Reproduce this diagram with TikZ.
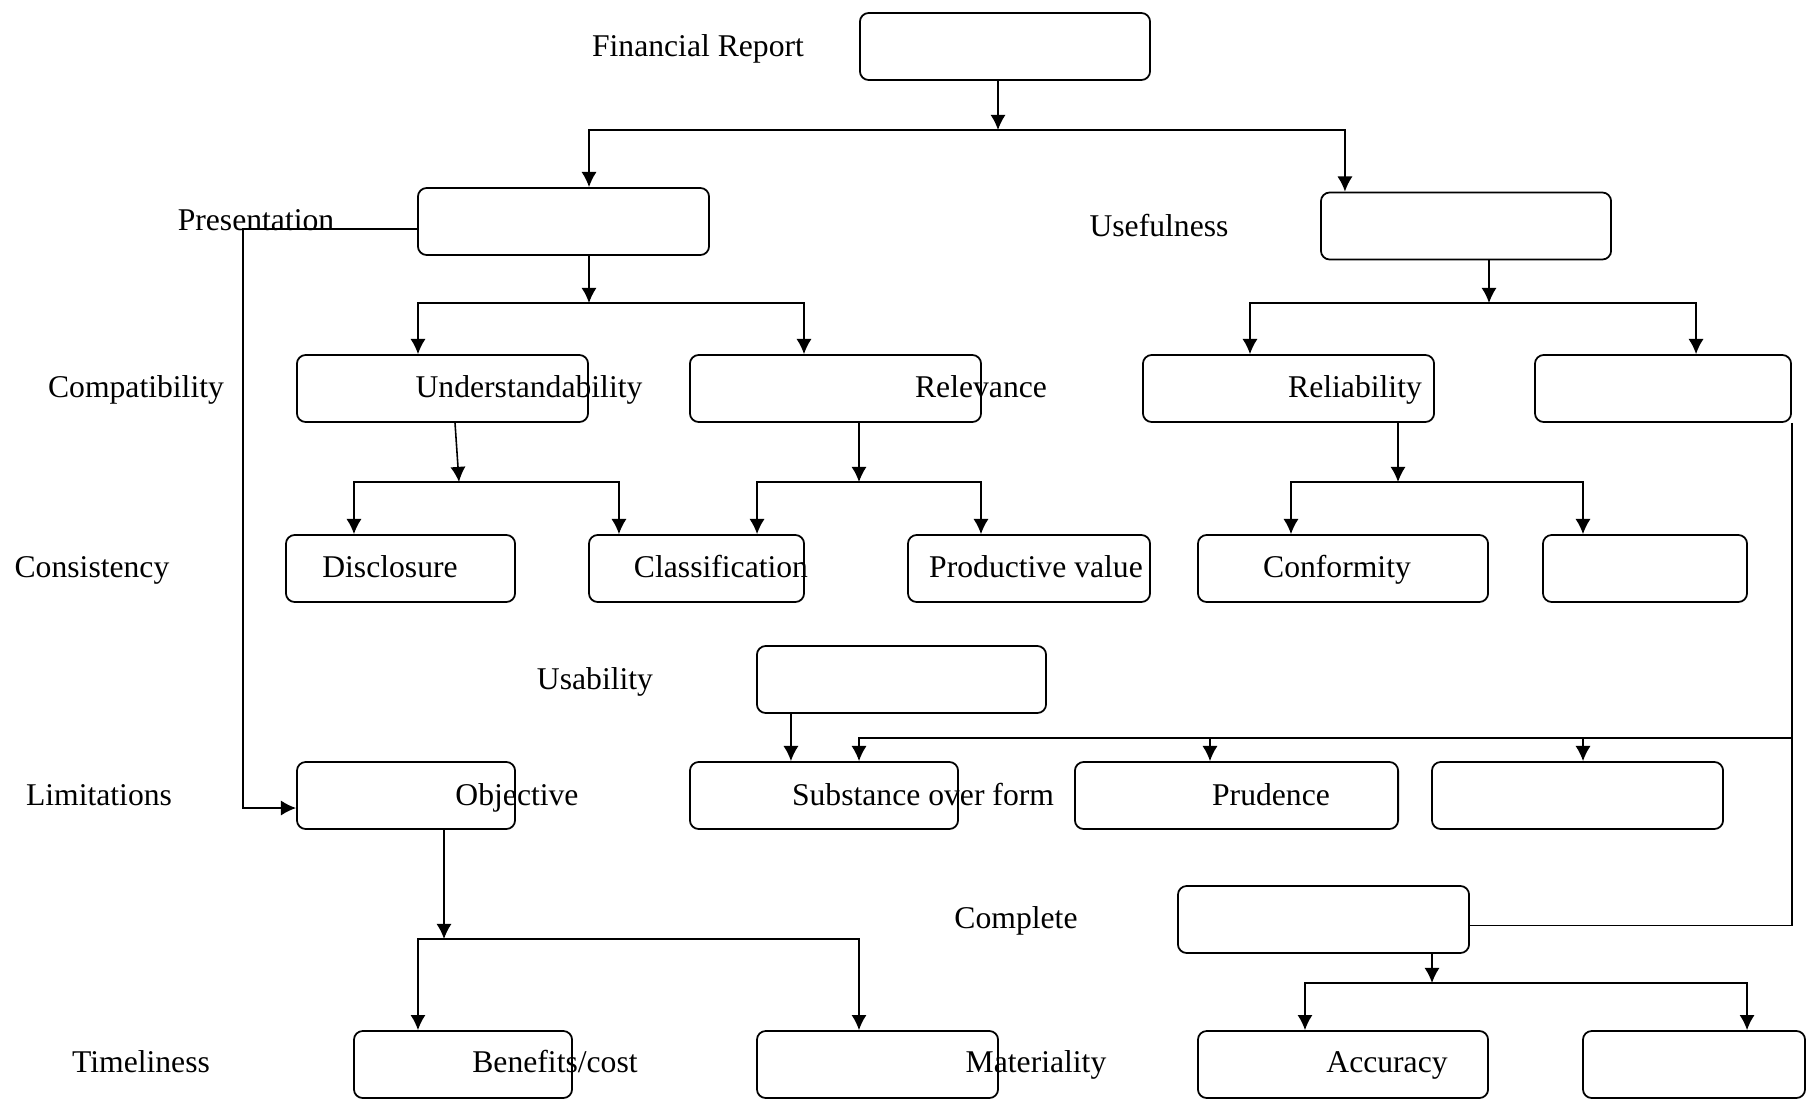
\documentclass[tikz,border=0pt]{standalone}
\usepackage{fontspec}
\setmainfont{Liberation Serif}
\usetikzlibrary{arrows.meta}

\tikzset{
  box/.style = {draw, rounded corners = 2.5pt, line width = 0.5pt, inner sep = 0pt, minimum height = 0.67cm},
  lbl/.style = {inner sep = 0pt, text height = 6.3pt, text depth = 0pt, font = \fontsize{9}{11}\selectfont},
  arr/.style = {line width = 0.45pt, -{Latex[length = 4.3pt, width = 4.3pt]}},
  ln/.style = {line width = 0.45pt}
}

\begin{document}
\begin{tikzpicture}[x = 0.01cm, y = -0.01cm]
  \useasboundingbox (0,0) rectangle (1807,1103);
  % boxes
  \node[box, minimum width = 2.90cm] (fr)   at (1005,46.5) {};
  \node[box, minimum width = 2.91cm] (pres) at (563.5,221.5) {};
  \node[box, minimum width = 2.90cm] (use)  at (1466,226) {};
  \node[box, minimum width = 2.91cm] (und)  at (442.5,388.5) {};
  \node[box, minimum width = 2.91cm] (rel)  at (835.5,388.5) {};
  \node[box, minimum width = 2.91cm] (reli) at (1288.5,388.5) {};
  \node[box, minimum width = 2.56cm] (ea)   at (1663,388.5) {};
  \node[box, minimum width = 2.29cm] (dis)  at (400.5,568.5) {};
  \node[box, minimum width = 2.15cm] (cla)  at (696.5,568.5) {};
  \node[box, minimum width = 2.42cm] (prod) at (1029,568.5) {};
  \node[box, minimum width = 2.90cm] (conf) at (1343,568.5) {};
  \node[box, minimum width = 2.04cm] (eb)   at (1645,568.5) {};
  \node[box, minimum width = 2.89cm] (usab) at (901.5,679.5) {};
  \node[box, minimum width = 2.18cm] (obj)  at (406,795.5) {};
  \node[box, minimum width = 2.68cm] (sub)  at (824,795.5) {};
  \node[box, minimum width = 3.23cm] (prud) at (1236.5,795.5) {};
  \node[box, minimum width = 2.91cm] (ec)   at (1577.5,795.5) {};
  \node[box, minimum width = 2.91cm] (comp) at (1323.5,919.5) {};
  \node[box, minimum width = 2.18cm] (ben)  at (463,1064.5) {};
  \node[box, minimum width = 2.41cm] (mat)  at (877.5,1064.5) {};
  \node[box, minimum width = 2.90cm] (acc)  at (1343,1064.5) {};
  \node[box, minimum width = 2.22cm] (ed)   at (1694,1064.5) {};
  % labels
  \node[lbl] (lfr)   at (698,45) {Financial Report};
  \node[lbl] (lpres) at (256,219) {Presentation};
  \node[lbl] (luse)  at (1159,225) {Usefulness};
  \node[lbl] (lcomt) at (136,386) {Compatibility};
  \node[lbl] (lund)  at (529,386) {Understandability};
  \node[lbl] (lrel)  at (981,386) {Relevance};
  \node[lbl] (lreli) at (1355,386) {Reliability};
  \node[lbl] (lcons) at (92,566) {Consistency};
  \node[lbl] (ldis)  at (390,566) {Disclosure};
  \node[lbl] (lcla)  at (721,566) {Classification};
  \node[lbl] (lprod) at (1036,566) {Productive value};
  \node[lbl] (lconf) at (1337,566) {Conformity};
  \node[lbl] (lusab) at (595,678) {Usability};
  \node[lbl] (llim)  at (99,794) {Limitations};
  \node[lbl] (lobj)  at (517,794) {Objective};
  \node[lbl] (lsub)  at (923,794) {Substance over form};
  \node[lbl] (lprud) at (1271,794) {Prudence};
  \node[lbl] (lcomp) at (1016,917) {Complete};
  \node[lbl] (ltime) at (141,1061) {Timeliness};
  \node[lbl] (lben)  at (555,1061) {Benefits/cost};
  \node[lbl] (lmat)  at (1036,1061) {Materiality};
  \node[lbl] (lacc)  at (1387,1061) {Accuracy};
  % junctions
  \coordinate (j0) at (998,130);
  \coordinate (j1) at (589,303);
  \coordinate (j2) at (1489,303);
  \coordinate (j3) at (459,482);
  \coordinate (j4) at (859,482);
  \coordinate (j5) at (1398,482);
  \coordinate (j6) at (1791,738);
  \coordinate (j7) at (444,939);
  \coordinate (j8) at (1432,983);
  \coordinate (c1) at (243,808);
  % connectors
  \draw[arr] (fr.south -| j0) -- (j0);
  \draw[arr] (j0) -| ([xshift = 0.255cm]pres.north);
  \draw[arr] (j0) -| ([xshift = -1.21cm]use.north);
  \draw[arr] (pres.south -| j1) -- (j1);
  \draw[arr] (j1) -| ([xshift = -0.245cm]und.north);
  \draw[arr] (j1) -| ([xshift = -0.315cm]rel.north);
  \draw[arr] (use.south -| j2) -- (j2);
  \draw[arr] (j2) -| ([xshift = -0.385cm]reli.north);
  \draw[arr] (j2) -| ([xshift = 0.33cm]ea.north);
  \draw[arr] ([xshift = 0.125cm]und.south) -- (j3);
  \draw[arr] (j3) -| ([xshift = -0.465cm]dis.north);
  \draw[arr] (j3) -| ([xshift = -0.775cm]cla.north);
  \draw[arr] (rel.south -| j4) -- (j4);
  \draw[arr] (j4) -| ([xshift = 0.605cm]cla.north);
  \draw[arr] (j4) -| ([xshift = -0.48cm]prod.north);
  \draw[arr] (reli.south -| j5) -- (j5);
  \draw[arr] (j5) -| ([xshift = -0.52cm]conf.north);
  \draw[arr] (j5) -| ([xshift = -0.62cm]eb.north);
  \draw[arr] ([yshift = -0.075cm]pres.west) -| (c1) -- ([yshift = -0.125cm]obj.west);
  \draw[arr] ([xshift = -1.105cm]usab.south) coordinate (u1) -- (u1 |- sub.north);
  \draw[ln] (ea.south east) |- ([yshift = -0.06cm]comp.east);
  \draw[arr] (j6) -| ([xshift = 0.35cm]sub.north);
  \draw[arr] (j6) -| ([xshift = -0.265cm]prud.north);
  \draw[arr] (j6) -| ([xshift = 0.055cm]ec.north);
  \draw[arr] (obj.south -| j7) -- (j7);
  \draw[arr] (j7) -| ([xshift = -0.45cm]ben.north);
  \draw[arr] (j7) -| ([xshift = -0.185cm]mat.north);
  \draw[arr] (comp.south -| j8) -- (j8);
  \draw[arr] (j8) -| ([xshift = -0.38cm]acc.north);
  \draw[arr] (j8) -| ([xshift = 0.53cm]ed.north);
\end{tikzpicture}
\end{document}
